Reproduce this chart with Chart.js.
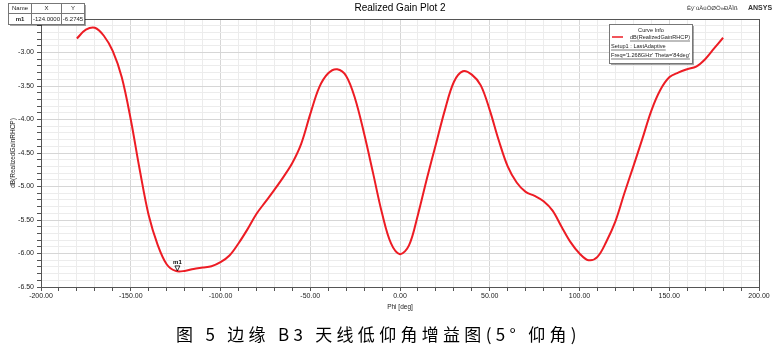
<!DOCTYPE html>
<html>
<head>
<meta charset="utf-8">
<script src="https://cdn.jsdelivr.net/npm/chart.js@4.4.1/dist/chart.umd.min.js"></script>
<style>
  html, body { margin: 0; padding: 0; background: #fff; }
  #wrap { width: 779px; height: 362px; }
</style>
</head>
<body>
<div id="wrap"><canvas id="gainChart" width="779" height="362"></canvas></div>
<script>
// Phi sweep (deg) and realized gain RHCP (dB)
const phi = [
  -180, -175, -170, -165, -160, -155, -150, -145, -140, -135, -130, -125,
  -120, -115, -110, -105, -100, -95, -90, -85, -80, -75, -70, -65,
  -60, -55, -50, -45, -40, -35, -30, -25, -20, -15, -10, -5,
  0, 5, 10, 15, 20, 25, 30, 35, 40, 45, 50, 55,
  60, 65, 70, 75, 80, 85, 90, 95, 100, 105, 110, 115,
  120, 125, 130, 135, 140, 145, 150, 155, 160, 165, 170, 175, 180
];
const gainRHCP = [
  -2.79, -2.66, -2.63, -2.75, -2.98, -3.37, -4.00, -4.75, -5.43, -5.87, -6.16, -6.26,
  -6.26, -6.23, -6.21, -6.19, -6.13, -6.03, -5.85, -5.64, -5.41, -5.23, -5.05, -4.86,
  -4.65, -4.36, -3.92, -3.52, -3.31, -3.25, -3.35, -3.69, -4.21, -4.80, -5.40, -5.85,
  -6.01, -5.88, -5.42, -4.88, -4.37, -3.86, -3.44, -3.28, -3.33, -3.49, -3.86, -4.31,
  -4.70, -4.94, -5.08, -5.14, -5.22, -5.36, -5.60, -5.83, -6.00, -6.10, -6.05, -5.82,
  -5.52, -5.10, -4.70, -4.29, -3.87, -3.56, -3.37, -3.30, -3.25, -3.21, -3.10, -2.94, -2.78
];
const markerName = ['m1'];
const markerPhi = [-124.0];
const markerGain = [-6.2745];

const xRange = [-200, 200];
const yRange = [-6.5, -2.5];

const lineRed = '#ed1c24';
const fontFace = '"Liberation Sans", Arial, sans-serif';

const points = phi.map((p, i) => ({ x: p, y: gainRHCP[i] }));

// extra drawing: frame, titles, marker, marker table, curve info, caption
const hfssDecor = {
  id: 'hfssDecor',
  beforeDraw(chart) {
    const ctx = chart.ctx;
    ctx.save();
    ctx.fillStyle = '#fff';
    ctx.fillRect(0, 0, chart.width, chart.height);
    ctx.restore();
  },
  afterDraw(chart) {
    const ctx = chart.ctx;
    const area = chart.chartArea;
    const xs = chart.scales.x, ys = chart.scales.y;
    ctx.save();

    // plot frame
    ctx.strokeStyle = '#555';
    ctx.lineWidth = 1;
    ctx.strokeRect(Math.round(area.left) + 0.5, Math.round(area.top) + 0.5,
      Math.round(area.right - area.left), Math.round(area.bottom - area.top));

    // title
    ctx.fillStyle = '#000';
    ctx.textBaseline = 'middle';
    ctx.textAlign = 'center';
    ctx.font = '10px ' + fontFace;
    ctx.fillText('Realized Gain Plot 2', 400, 8);

    // top right
    ctx.textAlign = 'left';
    ctx.font = '6px ' + fontFace;
    ctx.fillStyle = '#333';
    ctx.fillText('Ëÿ´úÄúÖØÖ»ÐÂÌß', 687, 8);
    ctx.font = 'bold 7px ' + fontFace;
    ctx.fillText('ANSYS', 748, 8);

    // marker m1 on curve
    for (let i = 0; i < markerName.length; i++) {
      const mx = xs.getPixelForValue(markerPhi[i]);
      const my = ys.getPixelForValue(markerGain[i]);
      ctx.strokeStyle = '#000';
      ctx.lineWidth = 0.8;
      ctx.beginPath();
      ctx.moveTo(mx - 2.5, my - 6);
      ctx.lineTo(mx + 2.5, my - 6);
      ctx.lineTo(mx, my - 1);
      ctx.closePath();
      ctx.stroke();
      ctx.fillStyle = '#000';
      ctx.textAlign = 'center';
      ctx.font = 'bold 6px ' + fontFace;
      ctx.fillText(markerName[i], mx, my - 9.5);
    }

    // marker table
    ctx.shadowColor = 'rgba(0,0,0,0.35)';
    ctx.shadowOffsetX = 2;
    ctx.shadowOffsetY = 2;
    ctx.fillStyle = '#fff';
    ctx.fillRect(8, 3, 76, 21);
    ctx.shadowColor = 'transparent';
    ctx.strokeStyle = '#777';
    ctx.lineWidth = 1;
    ctx.strokeRect(8.5, 3.5, 76, 21);
    ctx.beginPath();
    ctx.moveTo(8.5, 13.5); ctx.lineTo(84.5, 13.5);
    ctx.moveTo(31.5, 3.5); ctx.lineTo(31.5, 24.5);
    ctx.moveTo(61.5, 3.5); ctx.lineTo(61.5, 24.5);
    ctx.stroke();
    ctx.fillStyle = '#222';
    ctx.textAlign = 'center';
    ctx.font = '6px ' + fontFace;
    ctx.fillText('Name', 20, 8.8);
    ctx.fillText('X', 46.5, 8.8);
    ctx.fillText('Y', 73, 8.8);
    ctx.fillText(markerPhi[0].toFixed(4), 46.5, 19.2);
    ctx.fillText(markerGain[0].toFixed(4), 73, 19.2);
    ctx.font = 'bold 6px ' + fontFace;
    ctx.fillText(markerName[0], 20, 19.2);

    // curve info box
    ctx.shadowColor = 'rgba(0,0,0,0.35)';
    ctx.shadowOffsetX = 2;
    ctx.shadowOffsetY = 2;
    ctx.fillStyle = '#fff';
    ctx.fillRect(609, 24, 83, 39);
    ctx.shadowColor = 'transparent';
    ctx.strokeStyle = '#777';
    ctx.strokeRect(609.5, 24.5, 83, 39);
    ctx.fillStyle = '#222';
    ctx.font = '5.6px ' + fontFace;
    ctx.textAlign = 'center';
    ctx.fillText('Curve Info', 651, 30);
    ctx.strokeStyle = lineRed;
    ctx.lineWidth = 1.5;
    ctx.beginPath();
    ctx.moveTo(612, 37); ctx.lineTo(623, 37);
    ctx.stroke();
    ctx.textAlign = 'left';
    const infoLines = [
      ['dB(RealizedGainRHCP)', 630, 37.5],
      ['Setup1 : LastAdaptive', 611, 46.5],
      ["Freq='1.268GHz' Theta='84deg'", 611, 55.5]
    ];
    ctx.strokeStyle = '#222';
    ctx.lineWidth = 0.6;
    infoLines.forEach(([t, x, y]) => {
      ctx.fillText(t, x, y);
      const w = ctx.measureText(t).width;
      ctx.beginPath();
      ctx.moveTo(x, y + 3.5); ctx.lineTo(x + w, y + 3.5);
      ctx.stroke();
    });

    // caption
    ctx.fillStyle = '#000';
    ctx.textAlign = 'left';
    ctx.font = '17px "Noto Sans CJK SC", sans-serif';
    if ('letterSpacing' in ctx) ctx.letterSpacing = '4.3px';
    ctx.fillText('图 5 边缘 B3 天线低仰角增益图(5° 仰角)', 176, 335);
    ctx.restore();
  }
};

new Chart(document.getElementById('gainChart'), {
  type: 'scatter',
  data: {
    datasets: [{
      label: 'dB(RealizedGainRHCP)',
      data: points,
      showLine: true,
      borderColor: lineRed,
      borderWidth: 2,
      pointRadius: 0,
      tension: 0.35,
      fill: false
    }]
  },
  options: {
    responsive: false,
    animation: false,
    layout: { padding: { left: 0, right: 20, top: 19, bottom: 45 } },
    plugins: {
      legend: { display: false },
      tooltip: { enabled: false }
    },
    scales: {
      x: {
        type: 'linear',
        min: xRange[0],
        max: xRange[1],
        afterFit: (s) => { s.height = 30; },
        border: { color: '#555' },
        grid: {
          color: (c) => (c.tick && c.tick.value % 50 === 0) ? '#d6d6d6' : '#ececec',
          tickColor: '#555',
          tickLength: 4
        },
        ticks: {
          stepSize: 10,
          autoSkip: false,
          maxRotation: 0,
          minRotation: 0,
          padding: 1,
          color: '#222',
          font: { size: 7, family: fontFace },
          callback: (v) => (v % 50 === 0 ? v.toFixed(2) : '')
        },
        title: {
          display: true,
          text: 'Phi [deg]',
          color: '#222',
          font: { size: 6.5, family: fontFace },
          padding: { top: 0, bottom: 6 }
        }
      },
      y: {
        type: 'linear',
        min: yRange[0],
        max: yRange[1],
        afterFit: (s) => { s.width = 41; },
        border: { color: '#555' },
        grid: {
          color: (c) => (c.tick && Math.round(c.tick.value * 10) % 5 === 0) ? '#d6d6d6' : '#ececec',
          tickColor: '#555',
          tickLength: 4
        },
        ticks: {
          stepSize: 0.1,
          autoSkip: false,
          padding: 3,
          color: '#222',
          font: { size: 7, family: fontFace },
          callback: (v) => {
            const k = Math.round(v * 10);
            if (k % 5 !== 0 || k === -25) return '';
            return (k / 10).toFixed(2);
          }
        },
        title: {
          display: true,
          text: 'dB(RealizedGainRHCP)',
          color: '#222',
          font: { size: 6.5, family: fontFace },
          padding: { top: 9, bottom: 0 }
        }
      }
    }
  },
  plugins: [hfssDecor]
});
</script>
</body>
</html>
